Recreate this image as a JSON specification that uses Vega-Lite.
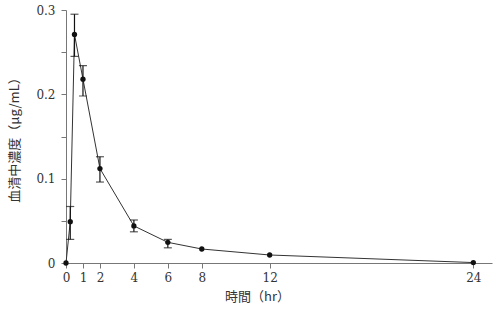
{
  "$schema": "https://vega.github.io/schema/vega-lite/v6.json",
  "width": 426,
  "height": 253,
  "autosize": {"type": "none"},
  "padding": {"left": 66, "top": 10, "right": 8, "bottom": 47},
  "background": "white",
  "config": {"view": {"stroke": null}},
  "data": {
    "values": [
      {"t": 0, "c": 0.0, "lo": null, "hi": null},
      {"t": 0.25, "c": 0.049, "lo": 0.028, "hi": 0.067},
      {"t": 0.5, "c": 0.271, "lo": 0.245, "hi": 0.295},
      {"t": 1, "c": 0.218, "lo": 0.198, "hi": 0.234},
      {"t": 2, "c": 0.112, "lo": 0.096, "hi": 0.126},
      {"t": 4, "c": 0.044, "lo": 0.037, "hi": 0.051},
      {"t": 6, "c": 0.0245, "lo": 0.018, "hi": 0.028},
      {"t": 8, "c": 0.0166, "lo": null, "hi": null},
      {"t": 12, "c": 0.0095, "lo": null, "hi": null},
      {"t": 24, "c": 0.0005, "lo": null, "hi": null}
    ]
  },
  "encoding": {
    "x": {
      "field": "t", "type": "quantitative",
      "scale": {"domain": [0, 25.1], "nice": false, "zero": false},
      "axis": {
        "title": "時間（hr）",
        "values": [0, 1, 2, 4, 6, 8, 12, 24],
        "grid": false,
        "domainColor": "#777", "tickColor": "#777", "tickSize": 5,
        "labelFont": "DejaVu Serif", "labelFontSize": 12, "labelColor": "#333",
        "labelPadding": 4, "labelFlush": false,
        "titleFont": "Noto Sans CJK JP", "titleFontSize": 13, "titleFontWeight": "normal",
        "titleColor": "#333", "titleX": 191, "titlePadding": 7
      }
    },
    "y": {
      "field": "c", "type": "quantitative",
      "scale": {"domain": [0, 0.3], "nice": false},
      "axis": {
        "title": "血清中濃度（μg/mL）",
        "values": [0, 0.05, 0.1, 0.15, 0.2, 0.25, 0.3],
        "labelExpr": "round(datum.value*100) % 10 == 0 ? format(datum.value, '.1~f') : ''",
        "grid": false,
        "domainColor": "#777", "tickColor": "#777", "tickSize": 5,
        "labelFont": "DejaVu Serif", "labelFontSize": 12, "labelColor": "#333",
        "labelPadding": 6, "labelFlush": false,
        "titleFont": "Noto Sans CJK JP", "titleFontSize": 13, "titleFontWeight": "normal",
        "titleColor": "#333", "titlePadding": 14
      }
    }
  },
  "layer": [
    {"mark": {"type": "line", "color": "#333", "strokeWidth": 1}},
    {
      "transform": [{"filter": "datum.lo != null"}],
      "mark": {"type": "rule", "color": "#111", "strokeWidth": 1.2},
      "encoding": {"y": {"field": "lo", "type": "quantitative"}, "y2": {"field": "hi"}}
    },
    {
      "transform": [{"filter": "datum.lo != null"}],
      "mark": {"type": "tick", "orient": "horizontal", "color": "#111", "size": 8, "thickness": 1.2},
      "encoding": {"y": {"field": "lo", "type": "quantitative"}}
    },
    {
      "transform": [{"filter": "datum.lo != null"}],
      "mark": {"type": "tick", "orient": "horizontal", "color": "#111", "size": 8, "thickness": 1.2},
      "encoding": {"y": {"field": "hi", "type": "quantitative"}}
    },
    {"mark": {"type": "point", "filled": true, "color": "#111", "size": 28, "opacity": 1}}
  ]
}
